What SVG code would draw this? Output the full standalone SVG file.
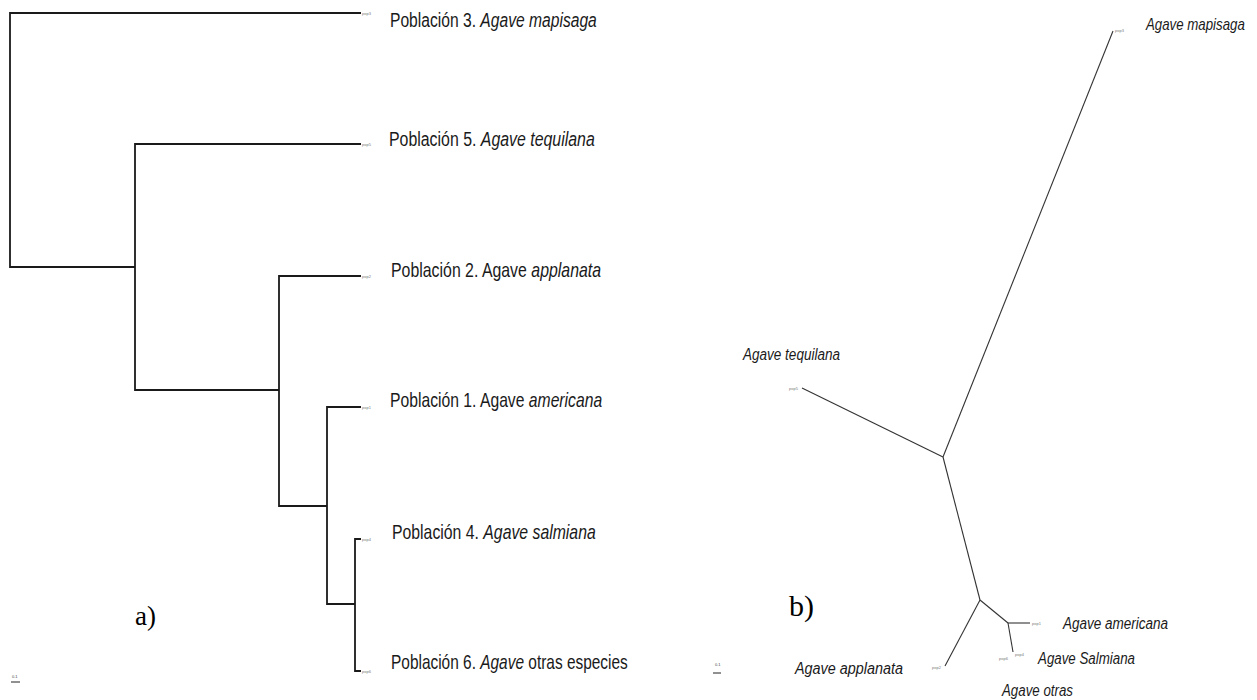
<svg xmlns="http://www.w3.org/2000/svg" width="1257" height="700" viewBox="0 0 1257 700">
  <style>
    .lt { fill: none; stroke: #1a1a1a; stroke-width: 1.8; }
    .rt { fill: none; stroke: #333; stroke-width: 1.1; }
    .lab { font-family: "Liberation Sans", Arial, sans-serif; font-size: 20px; fill: #1a1a1a; }
    .rlab { font-family: "Liberation Sans", Arial, sans-serif; font-size: 16px; font-style: italic; fill: #1a1a1a; }
    .it { font-style: italic; }
    .tiny { font-family: "Liberation Sans", Arial, sans-serif; font-size: 4px; fill: #7a7a7a; }
    .panel { font-family: "Liberation Serif", "Times New Roman", serif; fill: #000; }
    .scale { font-family: "Liberation Sans", Arial, sans-serif; font-size: 4px; fill: #444; }
  </style>
  <rect width="1257" height="700" fill="#fff"/>

  <g id="connectors">
    <!-- left dendrogram -->
    <path class="lt" d="M361,13 H10 V267 H135"/>
    <path class="lt" d="M361,144 H135 V390 H279"/>
    <path class="lt" d="M361,276 H279 V506 H327"/>
    <path class="lt" d="M361,407 H327 V604 H355"/>
    <path class="lt" d="M361,539 H355 V671 H361"/>
    <!-- right unrooted tree -->
    <path class="rt" d="M943,457 L1113,31"/>
    <path class="rt" d="M943,457 L802,388"/>
    <path class="rt" d="M943,457 L980,600"/>
    <path class="rt" d="M980,600 L945,666"/>
    <path class="rt" d="M980,600 L1008,623"/>
    <path class="rt" d="M1008,623 H1030"/>
    <path class="rt" d="M1008,623 L1013,652"/>
  </g>

  <!-- left tree nodes -->
  <g id="a-pop3">
    <text class="tiny" x="362" y="14.5">pop3</text>
    <text class="lab" transform="translate(390,27) scale(0.782,1)">Población 3. <tspan class="it">Agave mapisaga</tspan></text>
  </g>
  <g id="a-pop5">
    <text class="tiny" x="362" y="145.5">pop5</text>
    <text class="lab" transform="translate(389,146) scale(0.795,1)">Población 5. <tspan class="it">Agave tequilana</tspan></text>
  </g>
  <g id="a-pop2">
    <text class="tiny" x="362" y="277.5">pop2</text>
    <text class="lab" transform="translate(391,277) scale(0.794,1)">Población 2. Agave <tspan class="it">applanata</tspan></text>
  </g>
  <g id="a-pop1">
    <text class="tiny" x="362" y="408.5">pop1</text>
    <text class="lab" transform="translate(390,407) scale(0.786,1)">Población 1. Agave <tspan class="it">americana</tspan></text>
  </g>
  <g id="a-pop4">
    <text class="tiny" x="362" y="540.5">pop4</text>
    <text class="lab" transform="translate(392,539) scale(0.79,1)">Población 4. <tspan class="it">Agave salmiana</tspan></text>
  </g>
  <g id="a-pop6">
    <text class="tiny" x="362" y="672.5">pop6</text>
    <text class="lab" transform="translate(391,669) scale(0.772,1)">Población 6. <tspan class="it">Agave</tspan> otras especies</text>
  </g>
  <g id="a-label">
    <text class="panel" x="135" y="625" font-size="27">a)</text>
  </g>
  <g id="a-scale">
    <text class="scale" x="12" y="678">0.1</text>
    <line x1="11" y1="682" x2="20" y2="682" stroke="#222" stroke-width="1"/>
  </g>

  <!-- right tree nodes -->
  <g id="b-pop3">
    <text class="tiny" x="1115" y="32">pop3</text>
    <text class="rlab" transform="translate(1146,30) scale(0.83,1)">Agave mapisaga</text>
  </g>
  <g id="b-pop5">
    <text class="tiny" x="789" y="389.5">pop5</text>
    <text class="rlab" x="743" y="360" textLength="97" lengthAdjust="spacingAndGlyphs">Agave tequilana</text>
  </g>
  <g id="b-pop1">
    <text class="tiny" x="1032" y="625">pop1</text>
    <text class="rlab" x="1063" y="629" textLength="105" lengthAdjust="spacingAndGlyphs">Agave americana</text>
  </g>
  <g id="b-pop4">
    <text class="tiny" x="1015" y="656">pop4</text>
    <text class="rlab" x="1038" y="664" textLength="97" lengthAdjust="spacingAndGlyphs">Agave Salmiana</text>
  </g>
  <g id="b-pop6">
    <text class="tiny" x="999" y="660">pop6</text>
    <text class="rlab" x="1002" y="696" textLength="71" lengthAdjust="spacingAndGlyphs">Agave otras</text>
  </g>
  <g id="b-pop2">
    <text class="tiny" x="932" y="669">pop2</text>
    <text class="rlab" x="795" y="674" textLength="108" lengthAdjust="spacingAndGlyphs">Agave applanata</text>
  </g>
  <g id="b-label">
    <text class="panel" x="789" y="616" font-size="30">b)</text>
  </g>
  <g id="b-scale">
    <text class="scale" x="715" y="666">0.1</text>
    <line x1="713" y1="673" x2="721" y2="673" stroke="#222" stroke-width="1"/>
  </g>
</svg>
